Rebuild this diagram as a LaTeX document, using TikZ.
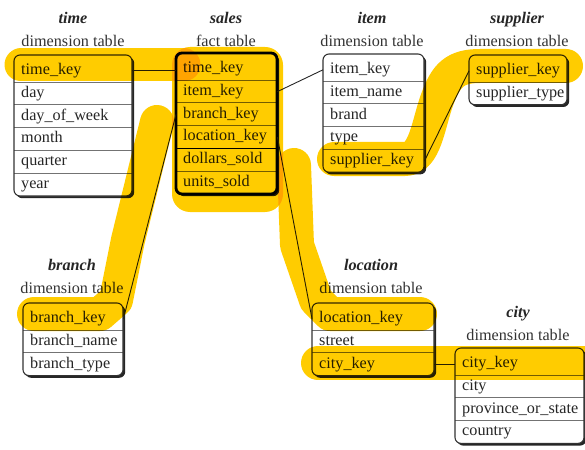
\documentclass[tikz,border=0pt]{standalone}
\usepackage{fontspec}
\setmainfont{Liberation Serif}
\definecolor{hly}{RGB}{255,204,0}
\tikzset{
  row/.style={anchor=north west, minimum height=22.8pt, inner xsep=7pt, inner ysep=0pt,
    text height=11pt, text depth=3.5pt, align=left, text=black!85},
  sep/.style={draw=black!55, line width=0.8pt},
  border/.style={draw=black!80, line width=1.1pt},
  tshadow/.style={fill=black!85},
  conn/.style={draw=black!85, line width=0.9pt},
  ttl/.style={font=\fontsize{16.2}{19}\selectfont\bfseries\itshape, text=black!85, inner sep=0pt, anchor=base},
  sub/.style={text=black!80, inner sep=0pt, anchor=base},
  hl/.style={draw=hly, line width=34pt, line cap=round, line join=round},
}
\newcommand\mktable[6]{%
  \pgfmathsetmacro\tw{#4-14}%
  \pgfmathsetmacro\tb{#3+4.2+#5*22.8}%
  \coordinate (#1-nw) at (#2,#3);
  \coordinate (#1-se) at ({#2+#4},\tb);
  \fill[tshadow, rounded corners=6pt] ([shift={(2.2,2.2)}]#1-nw) rectangle ([shift={(2.2,2.2)}]#1-se);
  \fill[white, rounded corners=6pt] (#1-nw) rectangle (#1-se);
  \foreach \r [count=\i] in {#6} {
    \node[row, text width=\tw pt] (#1-\i) at ({#2},{#3+4.2+(\i-1)*22.8}) {\mbox{\r}};
  }
  \foreach \i in {2,...,#5} { \draw[sep] (#1-\i.north west) -- (#1-\i.north east); }
  \draw[border, rounded corners=6pt] (#1-nw) rectangle (#1-se);
}
\begin{document}
\begin{tikzpicture}[x=1pt,y=-1pt, font=\fontsize{16.2}{19}\selectfont]
\useasboundingbox (0,0) rectangle (585,449);

% titles
\node[ttl] (time-t) at (73,24) {time};
\node[sub] (time-s) at (73,47) {dimension table};
\node[ttl] (sales-t) at (226,24) {sales};
\node[sub] (sales-s) at (226,47) {fact table};
\node[ttl] (item-t) at (372,24) {item};
\node[sub] (item-s) at (372,47) {dimension table};
\node[ttl] (supplier-t) at (517,24) {supplier};
\node[sub] (supplier-s) at (517,47) {dimension table};
\node[ttl] (branch-t) at (72,270) {branch};
\node[sub] (branch-s) at (72,293) {dimension table};
\node[ttl] (location-t) at (371,270) {location};
\node[sub] (location-s) at (371,293) {dimension table};
\node[ttl] (city-t) at (518,317) {city};
\node[sub] (city-s) at (518,340) {dimension table};

% tables
\mktable{time}{14}{55}{118}{6}{time\_key,day,day\_of\_week,month,quarter,year}
\mktable{sales}{176}{53}{101}{6}{time\_key,item\_key,branch\_key,location\_key,dollars\_sold,units\_sold}
\draw[line width=2.8pt, black, rounded corners=6pt] (sales-nw) rectangle (sales-se);
\draw[line width=1.6pt, black] (sales-5.north west) -- (sales-5.north east);
\mktable{item}{323}{54}{101}{5}{item\_key,item\_name,brand,type,supplier\_key}
\mktable{supplier}{469}{55}{98}{2}{supplier\_key,supplier\_type}
\mktable{branch}{23}{303}{100}{3}{branch\_key,branch\_name,branch\_type}
\mktable{location}{312}{303}{122}{3}{location\_key,street,city\_key}
\mktable{city}{455}{348}{129}{4}{city\_key,city,province\_or\_state,country}

% connectors
\draw[conn] (time-1.east) -- (time-1.east -| sales-1.west);
\draw[conn] (sales-2.east) -- (item-1.west);
\draw[conn] (sales-3.west) -- (branch-1.east);
\draw[conn] (sales-4.east) -- (location-1.west);
\draw[conn] (item-5.east) -- (supplier-1.west);
\draw[conn] (location-3.east) -- (location-3.east -| city-1.west);

% highlighter strokes
\begin{scope}[blend mode=multiply]
\clip (0,0) rectangle (585,449);
\fill[hly, rounded corners=18pt] (172,47) rectangle (283,212);
\draw[hl, line width=33pt] (21,65) -- (184,65);
\draw[hl] (157,122) -- (128,240) -- (116,300) -- (100,314) -- (34,314);
\draw[hl] (294,165) -- (297,245) -- (316,300) -- (330,314) -- (420,314);
\draw[hl] (318,363) -- (600,363);
\draw[hl] (334,159) -- (405,159) .. controls (425,159) and (428,125) .. (437,100)
  .. controls (446,75) and (455,66) .. (480,66) -- (566,66);
\end{scope}
\end{tikzpicture}
\end{document}
